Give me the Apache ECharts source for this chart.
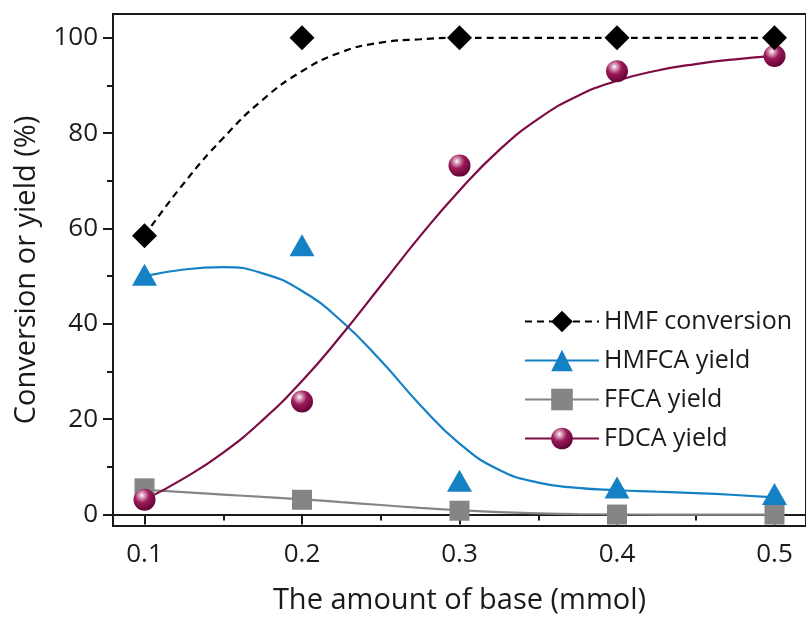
<!DOCTYPE html>
<html>
<head>
<meta charset="utf-8">
<script src="https://cdn.jsdelivr.net/npm/echarts@6/dist/echarts.min.js"></script>
<style>
  html, body { margin: 0; padding: 0; background: #fff; }
  #chart { width: 806px; height: 620px; }
</style>
</head>
<body>
<div id="chart"></div>
<script>
// Measured points: amount of base (mmol) vs conversion / yield (%)
const baseAmount    = [0.1, 0.2, 0.3, 0.4, 0.5];
const hmfConversion = [58.5, 100, 100, 100, 100];
const hmfcaYield    = [50.3, 56.5, 7.1, 5.7, 4.3];
const ffcaYield     = [5.5, 3.1, 0.8, 0.0, 0.0];
const fdcaYield     = [3.1, 23.7, 73.2, 93.0, 96.2];

// Fitted trend curves, sampled every 0.025 mmol
const curveX     = [0.1, 0.125, 0.15, 0.175, 0.2, 0.225, 0.25, 0.275, 0.3, 0.325, 0.35, 0.375, 0.4, 0.425, 0.45, 0.475, 0.5];
const hmfCurve   = [58.5, 69.5, 79.0, 87.0, 93.0, 97.0, 99.0, 99.7, 100, 100, 100, 100, 100, 100, 100, 100, 100];
const hmfcaCurve = [50.0, 51.4, 51.9, 50.6, 46.9, 40.6, 32.3, 23.0, 14.9, 9.4, 6.7, 5.6, 5.1, 4.8, 4.5, 4.1, 3.6];
const ffcaCurve  = [5.2, 4.7, 4.2, 3.7, 3.2, 2.6, 2.0, 1.4, 0.9, 0.5, 0.25, 0.1, 0.05, 0.0, 0.0, 0.0, 0.0];
const fdcaCurve  = [3.1, 7.6, 13.0, 19.8, 28.0, 37.6, 48.0, 58.4, 68.0, 76.4, 83.0, 87.8, 91.0, 93.1, 94.5, 95.5, 96.2];

// Axis ticks
const xMajorTicks = [0.1, 0.2, 0.3, 0.4, 0.5];
const xMinorTicks = [0.15, 0.25, 0.35, 0.45];
const yMajorTicks = [0, 20, 40, 60, 80, 100];
const yMinorTicks = [10, 30, 50, 70, 90];

const seriesNames = ['HMF conversion', 'HMFCA yield', 'FFCA yield', 'FDCA yield'];

const FONT = 'Open Sans';
const INK = '#1a1a1a';
const BLACK = '#000000';
const BLUE = '#1581c5';
const GRAY = '#858585';
const MAROON = '#7d0c45';

const sphere = {
  type: 'radial', x: 0.38, y: 0.3, r: 0.75,
  colorStops: [
    { offset: 0, color: '#ffffff' },
    { offset: 0.18, color: '#d995b6' },
    { offset: 0.45, color: '#9a1a58' },
    { offset: 1, color: '#5e0030' }
  ]
};

const pair = (xs, ys) => xs.map((x, i) => [x, ys[i]]);

const axisLineStyle = { color: INK, width: 2 };
const SMOOTH = 0.5;

const option = {
  animation: false,
  backgroundColor: '#ffffff',
  grid: {
    left: 113, top: 14, right: -6, bottom: 93,
    show: true, borderColor: INK, borderWidth: 2
  },
  xAxis: [
    {
      type: 'value', min: 0.08, max: 0.52,
      name: 'The amount of base (mmol)',
      nameLocation: 'middle', nameGap: 60,
      nameTextStyle: { fontFamily: FONT, fontSize: 29, color: INK },
      axisLine: { lineStyle: axisLineStyle },
      axisTick: { customValues: xMajorTicks, length: 10, lineStyle: { color: INK, width: 2 } },
      axisLabel: { customValues: xMajorTicks, margin: 16, fontFamily: FONT, fontSize: 26, color: INK,
                   formatter: v => v.toFixed(1) },
      splitLine: { show: false }
    },
    {
      type: 'value', min: 0.08, max: 0.52, position: 'bottom',
      axisLine: { show: false },
      axisTick: { customValues: xMinorTicks, length: 6, lineStyle: { color: INK, width: 2 } },
      axisLabel: { show: false },
      splitLine: { show: false }
    }
  ],
  yAxis: [
    {
      type: 'value', min: -2.4, max: 105,
      name: 'Conversion or yield (%)',
      nameLocation: 'middle', nameGap: 72,
      nameTextStyle: { fontFamily: FONT, fontSize: 29, color: INK },
      axisLine: { lineStyle: axisLineStyle },
      axisTick: { customValues: yMajorTicks, length: 10, lineStyle: { color: INK, width: 2 } },
      axisLabel: { customValues: yMajorTicks, margin: 15, fontFamily: FONT, fontSize: 26, color: INK },
      splitLine: { show: false }
    },
    {
      type: 'value', min: -2.4, max: 105, position: 'left',
      axisLine: { show: false },
      axisTick: { customValues: yMinorTicks, length: 6, lineStyle: { color: INK, width: 2 } },
      axisLabel: { show: false },
      splitLine: { show: false }
    }
  ],
  legend: {
    data: seriesNames,
    orient: 'vertical',
    left: 519, top: 303,
    itemWidth: 74, itemHeight: 27, itemGap: 12,
    textStyle: { fontFamily: FONT, fontSize: 25, color: INK, lineHeight: 27 },
    selectedMode: false
  },
  series: [
    // Trend curves (also carry the legend entries)
    {
      name: seriesNames[0], type: 'line', smooth: SMOOTH, data: pair(curveX, hmfCurve),
      showSymbol: false, symbol: 'diamond', itemStyle: { color: BLACK },
      lineStyle: { color: BLACK, width: 2.2, type: [7, 5] }, z: 2
    },
    {
      name: seriesNames[1], type: 'line', smooth: SMOOTH, data: pair(curveX, hmfcaCurve),
      showSymbol: false, symbol: 'triangle', itemStyle: { color: BLUE },
      lineStyle: { color: BLUE, width: 2.2 }, z: 2
    },
    {
      name: seriesNames[2], type: 'line', smooth: SMOOTH, data: pair(curveX, ffcaCurve),
      showSymbol: false, symbol: 'rect', itemStyle: { color: GRAY },
      lineStyle: { color: GRAY, width: 2.2 }, z: 2
    },
    {
      name: seriesNames[3], type: 'line', smooth: SMOOTH, data: pair(curveX, fdcaCurve),
      showSymbol: false, symbol: 'circle', itemStyle: { color: sphere },
      lineStyle: { color: MAROON, width: 2.2 }, z: 2
    },
    // Measured points
    {
      type: 'scatter', data: pair(baseAmount, ffcaYield), symbol: 'rect', symbolSize: 20,
      itemStyle: { color: GRAY, opacity: 1 }, clip: false, z: 3
    },
    {
      type: 'scatter', data: pair(baseAmount, fdcaYield), symbol: 'circle', symbolSize: 22,
      itemStyle: { color: sphere, opacity: 1 }, clip: false, z: 4
    },
    {
      type: 'scatter', data: pair(baseAmount, hmfcaYield), symbol: 'triangle', symbolSize: [25, 22],
      itemStyle: { color: BLUE, opacity: 1 }, clip: false, z: 3
    },
    {
      type: 'scatter', data: pair(baseAmount, hmfConversion), symbol: 'diamond', symbolSize: 25,
      itemStyle: { color: BLACK, opacity: 1 }, clip: false, z: 5
    }
  ]
};

const chart = echarts.init(document.getElementById('chart'), null, { renderer: 'canvas' });
chart.setOption(option);
</script>
</body>
</html>
